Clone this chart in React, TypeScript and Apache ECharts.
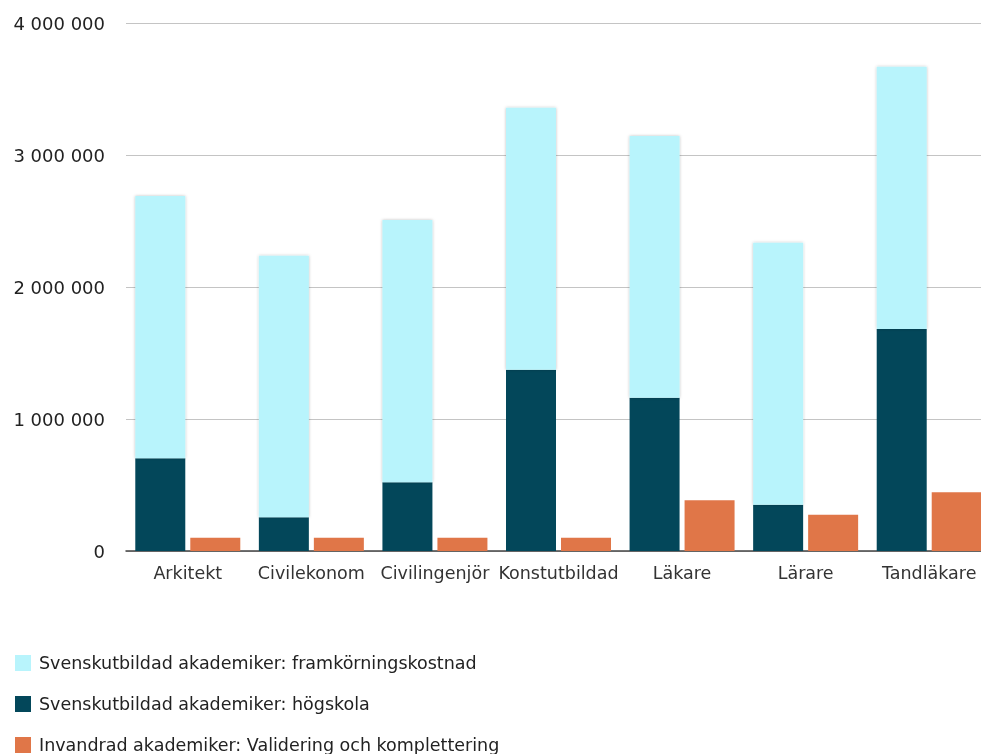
import React, { useEffect, useRef } from "react";
import * as echarts from "echarts";

const categories = ["Arkitekt", "Civilekonom", "Civilingenjör", "Konstutbildad", "Läkare", "Lärare", "Tandläkare"];
const hogskola = [702000, 255000, 520000, 1374000, 1161000, 351000, 1682000];
const framkorning = [1987000, 1982000, 1988000, 1984000, 1983000, 1985000, 1987000];
const validering = [101000, 101000, 101000, 101000, 384000, 275000, 445000];
const seriesNames = [
  "Svenskutbildad akademiker: framkörningskostnad",
  "Svenskutbildad akademiker: högskola",
  "Invandrad akademiker: Validering och komplettering",
];

const fmt = (v: number) => String(Math.round(v)).replace(/\B(?=(\d{3})+(?!\d))/g, " ");

export default function App() {
  const ref = useRef<HTMLDivElement>(null);
  useEffect(() => {
    if (!ref.current) return;
    const chart = echarts.init(ref.current, undefined, { renderer: "svg" });
    const font = "DejaVu Sans";
    chart.setOption({
      animation: false,
      textStyle: { fontFamily: font },
      grid: { left: 126, right: 0, top: 23, height: 528, containLabel: false },
      legend: {
        orient: "vertical",
        left: 15,
        top: 654,
        height: 140,
        padding: 0,
        itemWidth: 16,
        itemHeight: 16,
        itemGap: 23,
        icon: "rect",
        data: seriesNames,
        textStyle: { fontFamily: font, fontSize: 17.5, color: "#222", padding: [0, 0, 0, 3] },
      },
      xAxis: {
        type: "category",
        data: categories,
        axisTick: { show: false },
        axisLine: { lineStyle: { color: "#444", width: 1.5 } },
        axisLabel: { fontFamily: font, fontSize: 17.5, color: "#333", margin: 13, interval: 0 },
      },
      yAxis: {
        type: "value",
        min: 0,
        max: 4000000,
        interval: 1000000,
        axisLine: { show: false },
        axisTick: { show: false },
        splitLine: { lineStyle: { color: "#c4c4c4", width: 1.2 } },
        axisLabel: { fontFamily: font, fontSize: 18, color: "#222", margin: 21, formatter: fmt },
      },
      series: [
        {
          name: seriesNames[1],
          type: "bar",
          stack: "svensk",
          data: hogskola,
          barWidth: 50,
          barGap: "10%",
          itemStyle: { color: "#03475a" },
        },
        {
          name: seriesNames[0],
          type: "bar",
          stack: "svensk",
          data: framkorning,
          barWidth: 50,
          itemStyle: { color: "#b8f4fc", shadowBlur: 3, shadowColor: "rgba(0,0,0,0.25)" },
        },
        {
          name: seriesNames[2],
          type: "bar",
          data: validering,
          barWidth: 50,
          barGap: "10%",
          itemStyle: { color: "#e07648" },
        },
      ],
    });
    return () => chart.dispose();
  }, []);
  return <div ref={ref} style={{ position: "fixed", left: 0, top: 0, width: 991, height: 754 }} />;
}
